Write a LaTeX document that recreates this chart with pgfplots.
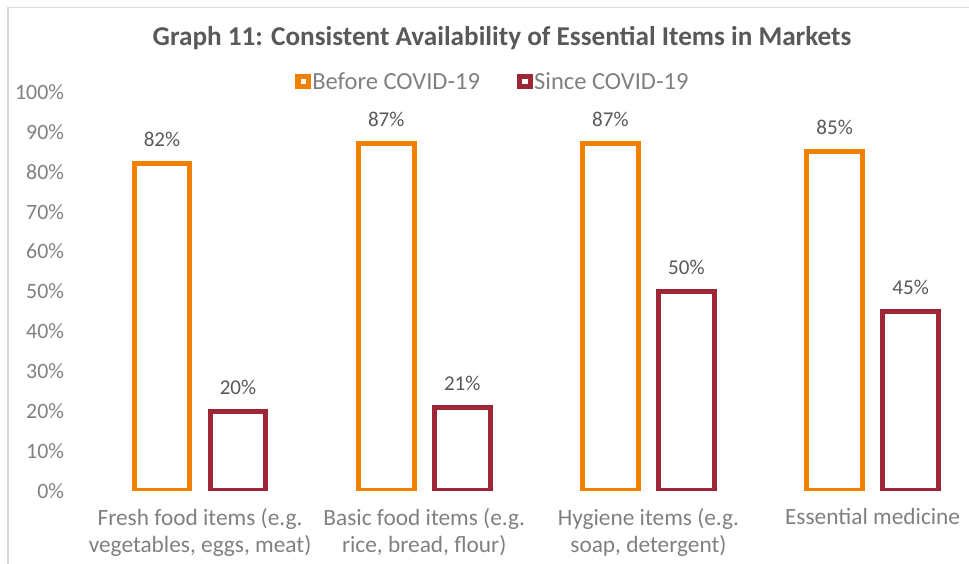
\documentclass[border=0pt]{standalone}
\usepackage{pgfplots}
\pgfplotsset{compat=1.18}
\usepackage{fontspec}
\setmainfont{Carlito}
\definecolor{before}{RGB}{240,128,0}
\definecolor{since}{RGB}{158,38,54}
\definecolor{tickgrey}{RGB}{128,128,128}
\definecolor{labgrey}{RGB}{89,89,89}
\definecolor{framegrey}{RGB}{217,217,217}

\begin{document}
\begin{tikzpicture}
% page: 969 x 563 units of 0.75pt
\path[use as bounding box] (0,0) rectangle (726.75pt,-422.25pt);
\clip (0,0) rectangle (726.75pt,-422.25pt);
\draw[framegrey, line width=1.2pt] (6pt,-430pt) -- (6pt,-5.6pt) -- (730pt,-5.6pt);
\node[anchor=base, inner sep=0pt, text=labgrey, font=\bfseries\fontsize{20.4}{24}\selectfont]
  at (376.5pt,-34.5pt) {Graph 11: Consistent Availability of Essential Items in Markets};
\begin{axis}[
  at={(65.93pt,-368.1pt)}, anchor=south west,
  scale only axis, width=672.6pt, height=299.1pt,
  xmin=-0.5, xmax=3.5, ymin=0, ymax=100,
  axis line style={draw=none}, major tick length=0pt,
  ybar, bar width=41.7pt,
  ytick={0,10,...,100},
  yticklabel={\pgfmathprintnumber{\tick}\%},
  yticklabel style={anchor=east, inner sep=0pt, xshift=-17.7pt, text=tickgrey,
    font=\fontsize{16.4}{18}\selectfont},
  /pgf/number format/assume math mode=true,
  xtick={0,1,2,3},
  xticklabels={{Fresh food items (e.g.\\vegetables, eggs, meat)},
               {Basic food items (e.g.\\rice, bread, flour)},
               {Hygiene items (e.g.\\soap, detergent)},
               {Essential medicine}},
  xticklabel style={anchor=north, align=center, inner sep=0pt, yshift=-13pt,
    text=tickgrey, font=\fontsize{17.5}{20.25}\selectfont},
  nodes near coords={\pgfmathprintnumber{\pgfplotspointmeta}\%},
  every node near coord/.append style={anchor=base, inner sep=0pt, yshift=12.75pt,
    text=labgrey, font=\fontsize{15.8}{18}\selectfont},
  legend style={at={(0.452,1.026)}, anchor=center, draw=none, fill=none,
    legend columns=2, font=\fontsize{18.4}{20}\selectfont, text=tickgrey,
    /tikz/every even column/.append style={column sep=26pt},
    /tikz/every odd column/.append style={column sep=-1pt},
    legend cell align=left},
  legend image code/.code={\draw[#1, line width=3.9pt, fill=white, line join=miter]
    (0pt,-3.9pt) rectangle (7.8pt,3.9pt);},
]
\addplot[draw=before, fill=white, line width=3.75pt, line join=miter, bar shift=-28.5pt]
  coordinates {(0,82) (1,87) (2,87) (3,85)};
\addplot[draw=since, fill=white, line width=3.75pt, line join=miter, bar shift=28.5pt]
  coordinates {(0,20) (1,21) (2,50) (3,45)};
\legend{Before COVID-19, Since COVID-19}
\end{axis}
\end{tikzpicture}
\end{document}
